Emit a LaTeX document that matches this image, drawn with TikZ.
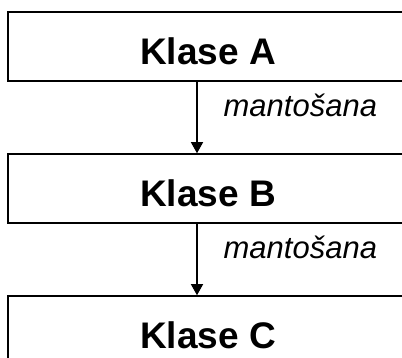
\documentclass[tikz,border=0pt]{standalone}
\usepackage{fontspec}
\setmainfont{Liberation Sans}
\usetikzlibrary{arrows.meta,positioning}
\tikzset{
  >={Triangle[width=12pt,length=11pt]},
  cls/.style ={draw=black,line width=1.5pt,minimum width=400pt,minimum height=69pt,
               inner sep=0pt,text height=36pt,text depth=0pt,
               font=\fontsize{37}{40}\selectfont\bfseries},
  inh/.style ={->,line width=1.3pt},
  lbl/.style ={font=\fontsize{31}{34}\selectfont\itshape,inner sep=0pt,
               anchor=base west,xshift=26pt,yshift=1pt},
}
\begin{document}
\begin{tikzpicture}[x=1pt,y=1pt]
\useasboundingbox (0,0) rectangle (402,358);
\begin{scope}
\clip (0,0) rectangle (402,358);
\node[cls] (klA) at (208,311.5) {Klase A};
\node[cls,below=71.5pt of klA] (klB) {Klase B};
\node[cls,below=71.5pt of klB] (klC) {Klase C};
% inheritance arrows
\coordinate (ax) at (197,0);
\draw[inh] (klA.south -| ax) -- node[lbl]{mantošana} (klB.north -| ax);
\draw[inh] (klB.south -| ax) -- node[lbl]{mantošana} (klC.north -| ax);
\end{scope}
\end{tikzpicture}
\end{document}
